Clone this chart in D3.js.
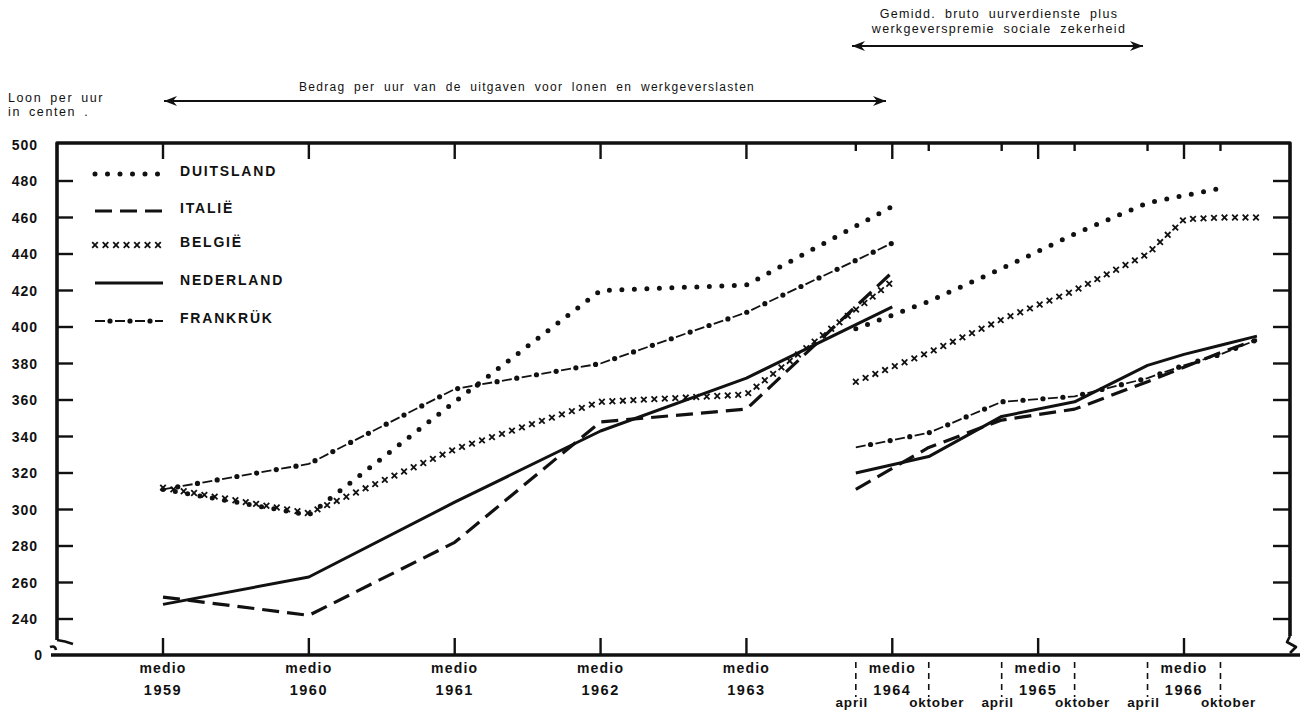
<!DOCTYPE html>
<html><head><meta charset="utf-8">
<script src="https://cdn.jsdelivr.net/npm/d3@7"></script>
<style>body{margin:0;background:#fff}svg{display:block}</style>
</head><body><svg id="c" width="1301" height="710"></svg>
<script>
// ---------- data ----------
const yTickValues = [480,460,440,420,400,380,360,340,320,300,280,260,240];
const yTickLabels = ["500","480","460","440","420","400","380","360","340","320","300","280","260","240"];
const yLabelValues = [500,480,460,440,420,400,380,360,340,320,300,280,260,240];
const medioYears = ["1959","1960","1961","1962","1963","1964","1965","1966"];
const medioDates = [1959.5,1960.5,1961.5,1962.5,1963.5,1964.5,1965.5,1966.5];
const aprilDates = [1964.25,1965.25,1966.25];
const oktoberDates = [1964.75,1965.75,1966.75];

const period1Dates = [1959.5,1960.5,1961.5,1962.5,1963.5,1964.5];
const period2Dates = [1964.25,1964.75,1965.25,1965.75,1966.25,1966.5,1966.75,1967.0];

const duitsland1 = [311,297,359,420,423,466];
const italie1    = [252,242,282,348,355,430];
const belgie1    = [312,298,333,359,363,425];
const nederland1 = [248,263,304,343,372,411];
const frankrijk1 = [311,325,366,380,408,446];

const duitsland2 = [399,414,432,451,468,472,476,null];
const italie2    = [311,334,349,355,370,378,386,393];
const belgie2    = [370,386,404,420,440,459,460,460];
const nederland2 = [320,329,351,359,379,385,390,395];
const frankrijk2 = [334,342,359,362,372,379,385,393];

const seriesNames = ["DUITSLAND","ITALIË","BELGIË","NEDERLAND","FRANKRÜK"];
const seriesStyles = ["dot","dash","cross","solid","dashdot"];
const seriesP1 = [duitsland1,italie1,belgie1,nederland1,frankrijk1];
const seriesP2 = [duitsland2,italie2,belgie2,nederland2,frankrijk2];

(function(){
// ---------- layout ----------
const INK = "#111";
const svg = d3.select("#c");
const L0 = 57, R0 = 1290, T0 = 143, B0 = 655;
const x = d3.scaleLinear().domain([1959.5,1966.5]).range([163,1184]);
const y = d3.scaleLinear().domain([220,500]).range([655.5,144.5]);

const FONT = "'Liberation Sans', 'DejaVu Sans', sans-serif";

// frame
const frame = svg.append("g").attr("fill","none").attr("stroke",INK).attr("stroke-width",3.6).attr("stroke-linejoin","round");
frame.append("path").attr("d",`M${L0},640 V${T0} H${R0} V636`);
frame.append("path").attr("stroke-width",2.6).attr("d",`M${L0},640 Q${L0+8},641 ${L0+16},644 M${L0-1},650 Q${L0-2},645 ${L0-7},647`);
frame.append("path").attr("stroke-width",2.6).attr("d",`M${R0},636 L${R0-3},642 L${R0+6},647 L${R0},653`);
frame.append("path").attr("d",`M${L0-6},${B0} H${R0+10}`);

const ticks = svg.append("g").attr("stroke",INK).attr("stroke-width",2.4);
ticks.selectAll("line.yl").data(yTickValues).join("line").attr("class","yl")
  .attr("x1",L0).attr("x2",L0+16).attr("y1",d=>y(d)).attr("y2",d=>y(d));
ticks.selectAll("line.yr").data(yTickValues).join("line").attr("class","yr")
  .attr("x1",R0).attr("x2",R0-17).attr("y1",d=>y(d)).attr("y2",d=>y(d));
ticks.selectAll("line.tm").data(medioDates).join("line").attr("class","tm")
  .attr("x1",d=>x(d)).attr("x2",d=>x(d)).attr("y1",T0).attr("y2",T0+16);
ticks.selectAll("line.ta").data(aprilDates.concat(oktoberDates)).join("line").attr("class","ta")
  .attr("x1",d=>x(d)).attr("x2",d=>x(d)).attr("y1",T0).attr("y2",T0+8);
ticks.selectAll("line.bm").data(medioDates).join("line").attr("class","bm")
  .attr("x1",d=>x(d)).attr("x2",d=>x(d)).attr("y1",B0).attr("y2",B0-17);
svg.append("g").attr("stroke",INK).attr("stroke-width",1.6).attr("stroke-dasharray","6 5")
  .selectAll("line").data(aprilDates.concat(oktoberDates)).join("line")
  .attr("x1",d=>x(d)).attr("x2",d=>x(d)).attr("y1",B0+7).attr("y2",B0+42);

// y labels
const yl = svg.append("g").attr("font-family",FONT).attr("font-weight","bold").attr("font-size",14)
  .attr("fill",INK).attr("text-anchor","end").attr("letter-spacing",1);
yl.selectAll("text.v").data(yLabelValues).join("text").attr("class","v")
  .attr("x",38).attr("y",d=>y(d)+5).text((d,i)=>yTickLabels[i]);
yl.append("text").attr("x",43).attr("y",B0+5).text("0");

// x labels
const xl = svg.append("g").attr("font-family",FONT).attr("font-weight","bold")
  .attr("fill",INK).attr("text-anchor","middle");
xl.selectAll("text.m").data(medioDates).join("text").attr("class","m").attr("x",d=>x(d)).attr("y",673)
  .attr("font-size",14).attr("letter-spacing",1.2).text("medio");
xl.selectAll("text.yr").data(medioDates).join("text").attr("class","yr").attr("x",d=>x(d)).attr("y",695)
  .attr("font-size",14.5).attr("letter-spacing",1.5).text((d,i)=>medioYears[i]);
xl.selectAll("text.ap").data(aprilDates).join("text").attr("class","ap").attr("x",d=>x(d)-4).attr("y",707)
  .attr("font-size",13.5).attr("letter-spacing",0.8).text("april");
xl.selectAll("text.ok").data(oktoberDates).join("text").attr("class","ok").attr("x",d=>x(d)+8).attr("y",707)
  .attr("font-size",13.5).attr("letter-spacing",0.8).text("oktober");

// axis title
const at = svg.append("g").attr("font-family",FONT).attr("font-size",12.5).attr("fill",INK)
  .attr("letter-spacing",1.6).attr("word-spacing",3);
at.append("text").attr("x",8).attr("y",102).text("Loon per uur");
at.append("text").attr("x",8).attr("y",116).text("in centen .");

// annotations
const an = svg.append("g").attr("font-family",FONT).attr("fill",INK)
  .attr("text-anchor","middle").attr("letter-spacing",1.3).attr("word-spacing",4);
an.append("text").attr("x",527).attr("y",91).attr("font-size",12).text("Bedrag per uur van de uitgaven voor lonen en werkgeverslasten");
an.append("text").attr("x",999).attr("y",18).attr("font-size",12.5).text("Gemidd. bruto uurverdienste plus");
an.append("text").attr("x",999).attr("y",33).attr("font-size",12.5).text("werkgeverspremie sociale zekerheid");

function arrow(x1,x2,yy){
  const g = svg.append("g").attr("stroke",INK).attr("fill",INK);
  g.append("line").attr("x1",x1).attr("x2",x2).attr("y1",yy).attr("y2",yy).attr("stroke-width",2);
  g.append("path").attr("stroke","none").attr("d",`M${x1},${yy} L${x1+13},${yy-5} L${x1+9},${yy} L${x1+13},${yy+5}Z`);
  g.append("path").attr("stroke","none").attr("d",`M${x2},${yy} L${x2-13},${yy-5} L${x2-9},${yy} L${x2-13},${yy+5}Z`);
}
arrow(164,886,101);
arrow(852,1143,46);

// ---------- line styles ----------
const lineGen = d3.line();
function drawStyled(pts, style){
  const g = svg.append("g");
  const p = g.append("path").attr("d",lineGen(pts)).attr("fill","none").attr("stroke",INK)
    .attr("stroke-linejoin","round");
  if(style==="dot"){
    p.attr("stroke-width",5).attr("stroke-linecap","round").attr("stroke-dasharray","0 12.5");
  } else if(style==="dash"){
    p.attr("stroke-width",3.2).attr("stroke-dasharray","17 8");
  } else if(style==="solid"){
    p.attr("stroke-width",3);
  } else if(style==="dashdot"){
    p.attr("stroke-width",1.8).attr("stroke-dasharray","10 10");
    const node = p.node(), L = node.getTotalLength();
    for(let s=15; s<L; s+=20){
      const q = node.getPointAtLength(s);
      g.append("circle").attr("cx",q.x).attr("cy",q.y).attr("r",2.6).attr("fill",INK);
    }
  } else if(style==="cross"){
    p.attr("stroke","none");
    const node = p.node(), L = node.getTotalLength();
    for(let s=0; s<=L+0.1; s+=10.5){
      const q = node.getPointAtLength(Math.min(s,L));
      const r = 2.8;
      g.append("path").attr("d",`M${q.x-r},${q.y-r}L${q.x+r},${q.y+r}M${q.x-r},${q.y+r}L${q.x+r},${q.y-r}`)
        .attr("stroke",INK).attr("stroke-width",1.8);
    }
  }
}

seriesStyles.forEach((st,i)=>{
  const pts1 = period1Dates.map((d,j)=>[d,seriesP1[i][j]]).filter(v=>v[1]!=null).map(v=>[x(v[0]),y(v[1])]);
  const pts2 = period2Dates.map((d,j)=>[d,seriesP2[i][j]]).filter(v=>v[1]!=null).map(v=>[x(v[0]),y(v[1])]);
  drawStyled(pts1, st);
  drawStyled(pts2, st);
});

// legend
const legY = [174,211,245,283,321];
seriesStyles.forEach((st,i)=>{ drawStyled([[95,legY[i]],[163,legY[i]]], st); });
svg.append("g").attr("font-family",FONT).attr("font-weight","bold").attr("font-size",14)
  .attr("fill",INK).attr("letter-spacing",1.8)
  .selectAll("text").data(seriesNames).join("text")
  .attr("x",180).attr("y",(d,i)=>legY[i]+2).text(d=>d);
})();
</script></body></html>
